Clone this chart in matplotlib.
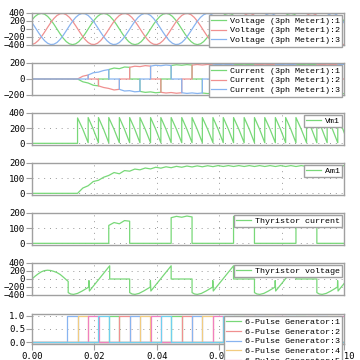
import numpy as np
import matplotlib
matplotlib.use('Agg')
import matplotlib.pyplot as plt

# ---------------- data ----------------
T_MS = list(range(0, 101))  # voltage samples, 1 ms apart
VOLT_1 = [229, 316, 371, 390, 371, 316, 229, 121, 0, -121, -229, -316, -371, -390, -371, -316, -229, -121, 0, 121,
          229, 316, 371, 390, 371, 316, 229, 121, 0, -121, -229, -316, -371, -390, -371, -316, -229, -121, 0, 121,
          229, 316, 371, 390, 371, 316, 229, 121, 0, -121, -229, -316, -371, -390, -371, -316, -229, -121, 0, 121,
          229, 316, 371, 390, 371, 316, 229, 121, 0, -121, -229, -316, -371, -390, -371, -316, -229, -121, 0, 121,
          229, 316, 371, 390, 371, 316, 229, 121, 0, -121, -229, -316, -371, -390, -371, -316, -229, -121, 0, 121,
          229]
VOLT_2 = [-388, -356, -290, -195, -81, 41, 159, 261, 338, 381, 388, 356, 290, 195, 81, -41, -159, -261, -338, -381,
          -388, -356, -290, -195, -81, 41, 159, 261, 338, 381, 388, 356, 290, 195, 81, -41, -159, -261, -338, -381,
          -388, -356, -290, -195, -81, 41, 159, 261, 338, 381, 388, 356, 290, 195, 81, -41, -159, -261, -338, -381,
          -388, -356, -290, -195, -81, 41, 159, 261, 338, 381, 388, 356, 290, 195, 81, -41, -159, -261, -338, -381,
          -388, -356, -290, -195, -81, 41, 159, 261, 338, 381, 388, 356, 290, 195, 81, -41, -159, -261, -338, -381,
          -388]
VOLT_3 = [159, 41, -81, -195, -290, -356, -388, -381, -338, -261, -159, -41, 81, 195, 290, 356, 388, 381, 338, 261,
          159, 41, -81, -195, -290, -356, -388, -381, -338, -261, -159, -41, 81, 195, 290, 356, 388, 381, 338, 261,
          159, 41, -81, -195, -290, -356, -388, -381, -338, -261, -159, -41, 81, 195, 290, 356, 388, 381, 338, 261,
          159, 41, -81, -195, -290, -356, -388, -381, -338, -261, -159, -41, 81, 195, 290, 356, 388, 381, 338, 261,
          159, 41, -81, -195, -290, -356, -388, -381, -338, -261, -159, -41, 81, 195, 290, 356, 388, 381, 338, 261,
          159]

# firing instants (s)
FIRE = [0.0113, 0.0146, 0.0180, 0.0213, 0.0246, 0.0280, 0.0313, 0.0346, 0.0380, 0.0413,
        0.0446, 0.0480, 0.0513, 0.0546, 0.0580, 0.0613, 0.0646, 0.0680, 0.0713, 0.0746,
        0.0780, 0.0813, 0.0846, 0.0880, 0.0913, 0.0946, 0.0980, 0.1013]
# conducting phase on top / bottom in intervals k = 1..26
TOP = ['R', 'B', 'B', 'G', 'G', 'R', 'R', 'B', 'B', 'G', 'G', 'R', 'R',
       'B', 'B', 'G', 'G', 'R', 'R', 'B', 'B', 'G', 'G', 'R', 'R', 'B']
BOT = ['G', 'G', 'R', 'R', 'B', 'B', 'G', 'G', 'R', 'R', 'B', 'B', 'G',
       'G', 'R', 'R', 'B', 'B', 'G', 'G', 'R', 'R', 'B', 'B', 'G', 'G']
# DC current Am1 at firing instants k=1..27 and at mid-intervals k=1..26
AM1_FIRE = [0, 50, 86, 118, 129, 146, 155, 161, 166, 169, 172, 174, 175, 176,
            177, 177, 177, 177, 177, 177, 177, 177, 177, 177, 177, 177, 177]
AM1_MID = [35, 78, 106, 137, 150, 160, 167, 172, 175, 178, 180, 181, 182, 183,
           183, 183, 183, 183, 183, 183, 183, 183, 183, 183, 183, 183]
# DC voltage Vm1: value right after firing, mid-interval, end of interval (k=1..26)
VM1_PEAK = [335, 340, 340, 340, 340, 340, 340, 340, 340, 340, 340, 340, 340,
            340, 340, 340, 340, 340, 340, 340, 340, 340, 340, 340, 340, 340]
VM1_MID = [185] * 26
VM1_END = [8] * 26

# thyristor voltage
TV_PRE_T = [0, .001, .002, .003, .004, .005, .006, .007, .008, .009, .010, .011, .0116]
TV_PRE_V = [0, 70, 130, 180, 210, 220, 212, 190, 160, 115, 50, -20, -60]
TV_DROPS = [0.0116, 0.0313, 0.0513, 0.0713, 0.0913]
TV_OFS = [0, 0.0008, 0.0017, 0.003, 0.0045, 0.006, 0.0066, 0.00665, 0.0068, 0.0133, 0.0133]
TV_VAL = [-340, -375, -385, -360, -300, -230, -200, -40, -300, 330, 0]

# 6-pulse generator rising edges
GEN_RISE = [
    [0.0246, 0.0446, 0.0646, 0.0846],
    [0.0280, 0.0480, 0.0680, 0.0880],
    [0.0113, 0.0313, 0.0513, 0.0713, 0.0913],
    [0.0146, 0.0346, 0.0546, 0.0746, 0.0946],
    [0.0180, 0.0380, 0.0580, 0.0780, 0.0980],
    [0.0213, 0.0413, 0.0613, 0.0813],
]
PULSE_W = 0.00333

XTICKS = [0.00, 0.02, 0.04, 0.06, 0.08, 0.10]
XTICKLABELS = ['0.00', '0.02', '0.04', '0.06', '0.08', '0.10']

# ---------------- build traces ----------------
t_v = np.array(T_MS) / 1000.0

mid = [(FIRE[k] + FIRE[k + 1]) / 2 for k in range(len(FIRE) - 1)]


def dc_trace(sel):
    ts, vs = [0.0, FIRE[1]], [0.0, 0.0]
    for i in range(26):
        k = i + 1
        s = sel(i)
        ts += [FIRE[k], mid[k], FIRE[k + 1]]
        vs += [s * AM1_FIRE[i], s * AM1_MID[i], s * AM1_FIRE[i + 1]]
    return ts, vs


cur = {}
for p in 'GRB':
    cur[p] = dc_trace(lambda i, p=p: 1 if TOP[i] == p else (-1 if BOT[i] == p else 0))
am1 = dc_trace(lambda i: 1)
thy_i = dc_trace(lambda i: 1 if TOP[i] == 'G' else 0)

vm_t, vm_v = [0.0, FIRE[1]], [0.0, 0.0]
for i in range(26):
    k = i + 1
    vm_t += [FIRE[k], mid[k], FIRE[k + 1]]
    vm_v += [VM1_PEAK[i], VM1_MID[i], VM1_END[i]]

tv_t, tv_v = list(TV_PRE_T), list(TV_PRE_V)
for j, td in enumerate(TV_DROPS):
    if j > 0:
        tv_t.append(td); tv_v.append(0)
    tv_t += [td + o for o in TV_OFS]
    tv_v += TV_VAL

gen_traces = []
for rises in GEN_RISE:
    ts, vs = [0.0], [0.0]
    for r in rises:
        ts += [r, r, r + PULSE_W, r + PULSE_W]
        vs += [0, 1, 1, 0]
    ts.append(0.1); vs.append(0)
    gen_traces.append((ts, vs))

# ---------------- draw ----------------
C_G, C_R, C_B = '#78d878', '#f09090', '#88b4f0'
GEN_C = [C_G, C_R, C_B, '#f2cc80', '#f080c0', '#70d0ee']
SPINE = '#a0a0a0'
LEGFONT = {'family': 'Liberation Mono', 'size': 6}
TICKFONT = 'DejaVu Sans Mono'

fig = plt.figure(figsize=(3.6, 3.6), dpi=100)
panels_px = [(13, 45), (63, 95), (113, 145), (163, 195), (213, 245), (263, 295), (314, 344)]
axes = []
for top, bot in panels_px:
    ax = fig.add_axes([32 / 360, 1 - bot / 360, 312 / 360, (bot - top) / 360])
    axes.append(ax)


def style(ax, yt, ylab, ylim, bottom=False):
    ax.set_xlim(0, 0.1)
    ax.set_ylim(*ylim)
    ax.set_yticks(yt)
    ax.set_yticklabels(ylab, fontfamily=TICKFONT, fontsize=6.5)
    ax.set_xticks(XTICKS)
    for s in ax.spines.values():
        s.set_color(SPINE)
        s.set_linewidth(1)
    ax.tick_params(axis='y', colors=SPINE, labelcolor='black', length=4, width=0.8, pad=1)
    ax.grid(True, color='#999999', linestyle=(0, (1, 5)), linewidth=0.7)
    if bottom:
        ax.set_xticklabels(XTICKLABELS, fontfamily=TICKFONT, fontsize=6.5)
        ax.tick_params(axis='x', colors=SPINE, labelcolor='black', length=4, width=0.8, pad=2)
    else:
        ax.tick_params(axis='x', length=0, labelbottom=False)


def legend(ax):
    lg = ax.legend(loc='upper right', bbox_to_anchor=(1, 1), prop=LEGFONT, frameon=True,
                   fancybox=False, framealpha=1, edgecolor=SPINE, borderaxespad=0.2,
                   borderpad=0.25, labelspacing=0.25, handlelength=1.8, handletextpad=0.5)
    lg.get_frame().set_linewidth(1)


LW = 0.9
ax = axes[0]
ax.plot(t_v, VOLT_1, color=C_G, lw=LW, label='Voltage (3ph Meter1):1')
ax.plot(t_v, VOLT_2, color=C_R, lw=LW, label='Voltage (3ph Meter1):2')
ax.plot(t_v, VOLT_3, color=C_B, lw=LW, label='Voltage (3ph Meter1):3')
style(ax, [-400, -200, 0, 200, 400], ['\u2212400', '\u2212200', '0', '200', '400'], (-400, 400))
legend(ax)

ax = axes[1]
ax.plot(*cur['G'], color=C_G, lw=LW, label='Current (3ph Meter1):1')
ax.plot(*cur['R'], color=C_R, lw=LW, label='Current (3ph Meter1):2')
ax.plot(*cur['B'], color=C_B, lw=LW, label='Current (3ph Meter1):3')
style(ax, [-200, 0, 200], ['\u2212200', '0', '200'], (-200, 200))
legend(ax)

ax = axes[2]
ax.plot(vm_t, vm_v, color=C_G, lw=LW, label='Vm1')
style(ax, [0, 200, 400], ['0', '200', '400'], (-22, 400))
legend(ax)

ax = axes[3]
ax.plot(*am1, color=C_G, lw=LW, label='Am1')
style(ax, [0, 100, 200], ['0', '100', '200'], (-11, 200))
legend(ax)

ax = axes[4]
ax.plot(*thy_i, color=C_G, lw=LW, label='Thyristor current')
style(ax, [0, 100, 200], ['0', '100', '200'], (-11, 200))
legend(ax)

ax = axes[5]
ax.plot(tv_t, tv_v, color=C_G, lw=LW, label='Thyristor voltage')
style(ax, [-400, -200, 0, 200, 400], ['\u2212400', '\u2212200', '0', '200', '400'], (-400, 400))
legend(ax)

ax = axes[6]
for j, (ts, vs) in enumerate(gen_traces):
    ax.plot(ts, vs, color=GEN_C[j], lw=LW, label='6-Pulse Generator:%d' % (j + 1))
style(ax, [0, 0.5, 1.0], ['0.0', '0.5', '1.0'], (-0.06, 1.06), bottom=True)
legend(ax)

fig.savefig('out.png', dpi=100)
